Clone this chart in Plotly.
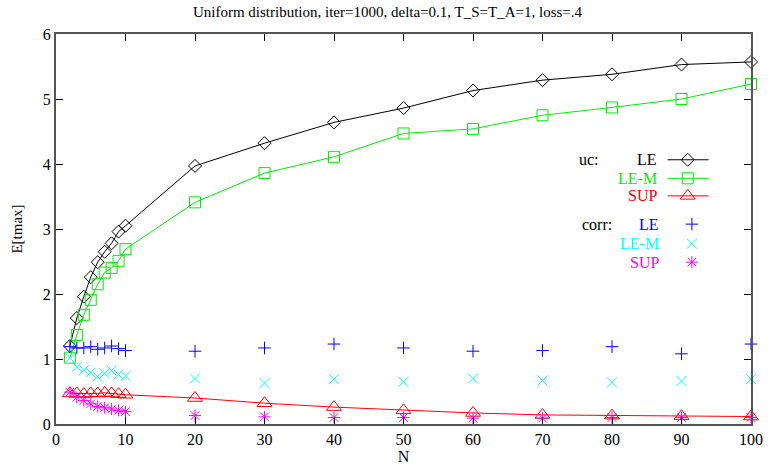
import plotly.graph_objects as go

# ---- data ----
N = [2, 3, 4, 5, 6, 7, 8, 9, 10, 20, 30, 40, 50, 60, 70, 80, 90, 100]
uc_LE = [1.20, 1.63, 1.96, 2.26, 2.49, 2.65, 2.78, 2.96, 3.05,
         3.97, 4.32, 4.64, 4.86, 5.13, 5.29, 5.38, 5.53, 5.57]
uc_LEM = [1.02, 1.37, 1.68, 1.91, 2.15, 2.33, 2.40, 2.51, 2.69,
          3.41, 3.86, 4.11, 4.47, 4.54, 4.75, 4.87, 5.00, 5.23]
uc_SUP = [0.47, 0.47, 0.46, 0.47, 0.47, 0.48, 0.47, 0.46, 0.45,
          0.40, 0.32, 0.26, 0.21, 0.17, 0.14, 0.13, 0.12, 0.115]
corr_LE = [1.19, 1.17, 1.17, 1.19, 1.15, 1.17, 1.20, 1.16, 1.13,
           1.12, 1.17, 1.23, 1.17, 1.12, 1.13, 1.19, 1.08, 1.23]
corr_LEM = [1.02, 0.88, 0.83, 0.79, 0.73, 0.78, 0.82, 0.76, 0.74,
            0.70, 0.63, 0.69, 0.65, 0.70, 0.67, 0.64, 0.66, 0.69]
corr_SUP = [0.49, 0.41, 0.36, 0.31, 0.27, 0.25, 0.23, 0.21, 0.19,
            0.13, 0.11, 0.10, 0.10, 0.09, 0.09, 0.10, 0.10, 0.10]

x_ticks = [0, 10, 20, 30, 40, 50, 60, 70, 80, 90, 100]
y_ticks = [0, 1, 2, 3, 4, 5, 6]

FONT = "Liberation Serif"

# series definitions: (name, group, values, color, symbol, size, with line)
series = [
    ("LE", "uc:", uc_LE, "#000000", "diamond-open", 10, True),
    ("LE-M", "uc:", uc_LEM, "#00ee00", "square-open", 11, True),
    ("SUP", "uc:", uc_SUP, "#ff0000", "triangle-up-open", 13, True),
    ("LE", "corr:", corr_LE, "#0000ff", "cross-thin-open", 9, False),
    ("LE-M", "corr:", corr_LEM, "#00ffff", "x-thin-open", 10, False),
    ("SUP", "corr:", corr_SUP, "#ff00ff", "asterisk-open", 10, False),
]

fig = go.Figure()
for name, grp, vals, col, sym, sz, line in series:
    fig.add_trace(go.Scatter(
        x=N, y=vals, mode="lines+markers" if line else "markers",
        line=dict(color=col, width=1),
        marker=dict(symbol=sym, size=sz, color=col, line=dict(color=col, width=1)),
        showlegend=False, cliponaxis=False,
    ))

# ---- custom gnuplot-style key (paper-fraction positions on an overlay axis) ----
key_rows = [0.6775, 0.630, 0.585, 0.5125, 0.4625, 0.415]
key_text_right = [0.868, 0.868, 0.868, 0.871, 0.871, 0.871]
key_line = (0.880, 0.939)
key_marker_x = [0.909, 0.909, 0.909, 0.915, 0.915, 0.915]
for i, (name, grp, vals, col, sym, sz, line) in enumerate(series):
    yk = key_rows[i]
    if line:
        fig.add_trace(go.Scatter(x=list(key_line), y=[yk, yk], mode="lines",
                                 line=dict(color=col, width=1), xaxis="x2", yaxis="y2",
                                 showlegend=False, hoverinfo="skip"))
    fig.add_trace(go.Scatter(x=[key_marker_x[i]], y=[yk], mode="markers",
                             marker=dict(symbol=sym, size=sz, color=col,
                                         line=dict(color=col, width=1)),
                             xaxis="x2", yaxis="y2", showlegend=False, hoverinfo="skip"))
    fig.add_annotation(x=key_text_right[i], y=yk, xref="paper", yref="paper",
                       text=name, showarrow=False, xanchor="right", yanchor="middle",
                       font=dict(family=FONT, size=16, color=col))
fig.add_annotation(x=0.749, y=key_rows[0], xref="paper", yref="paper", text="uc:",
                   showarrow=False, xanchor="left", yanchor="middle",
                   font=dict(family=FONT, size=16, color="#000000"))
fig.add_annotation(x=0.7535, y=key_rows[3], xref="paper", yref="paper", text="corr:",
                   showarrow=False, xanchor="left", yanchor="middle",
                   font=dict(family=FONT, size=16, color="#000000"))

axis_common = dict(showgrid=False, zeroline=False, showline=True, linecolor="#555555",
                   linewidth=2, mirror="ticks", ticks="inside", ticklen=7,
                   tickcolor="#000000", tickwidth=1,
                   tickfont=dict(family=FONT, size=16, color="#000000"))

fig.update_layout(
    width=775, height=475,
    margin=dict(l=56, r=13, t=34, b=41),
    paper_bgcolor="white", plot_bgcolor="white",
    font=dict(family=FONT, color="#000000"),
    title=dict(text="Uniform distribution, iter=1000, delta=0.1, T_S=T_A=1, loss=.4",
               x=0.5, xanchor="center", y=0.975, yanchor="middle",
               font=dict(family=FONT, size=15, color="#000000")),
    xaxis=dict(range=[0, 100], tickvals=x_ticks,
               title=dict(text="N", font=dict(family=FONT, size=16, color="#000000"),
                          standoff=4),
               **axis_common),
    yaxis=dict(range=[0, 6], tickvals=y_ticks,
               title=dict(text="E[tmax]", font=dict(family=FONT, size=15, color="#000000"),
                          standoff=17),
               **axis_common),
    xaxis2=dict(range=[0, 1], overlaying="x", visible=False, fixedrange=True),
    yaxis2=dict(range=[0, 1], overlaying="y", visible=False, fixedrange=True),
    showlegend=False,
)

fig.write_html("out.html")
